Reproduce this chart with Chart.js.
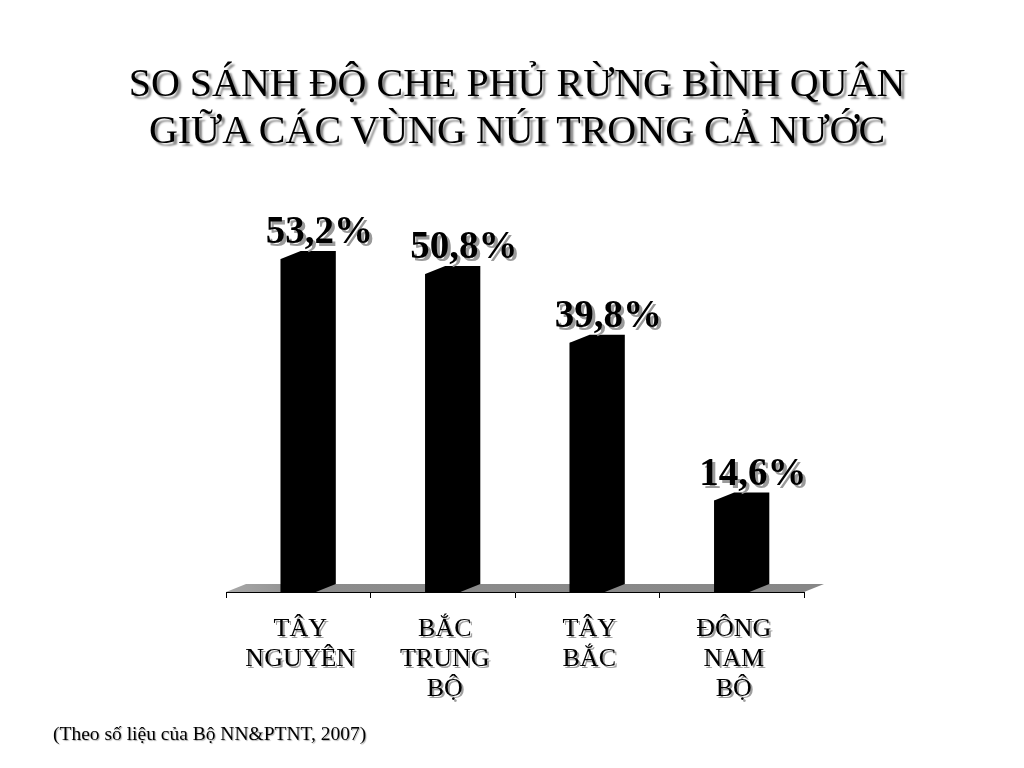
<!DOCTYPE html>
<html>
<head>
<meta charset="utf-8">
<script src="https://cdn.jsdelivr.net/npm/chart.js@4.4.1/dist/chart.umd.min.js"></script>
<style>
  html, body { margin: 0; padding: 0; background: #ffffff; }
  #wrap { position: relative; width: 1024px; height: 768px; overflow: hidden; }
  #chart { position: absolute; left: 0; top: 0; }
  .title {
    position: absolute; left: 10px; width: 1014px; text-align: center;
    font-family: "Liberation Serif", "Times New Roman", serif; font-size: 40px;
    color: #000; white-space: nowrap; line-height: 47px;
    text-shadow: 3px 3px 2px #8a8a8a;
  }
  .note {
    position: absolute; left: 53px; top: 723px;
    font-family: "Liberation Serif", "Times New Roman", serif; font-size: 19.5px;
    color: #000; white-space: nowrap; text-shadow: 1px 1px 1px #b0b0b0;
  }
</style>
</head>
<body>
<div id="wrap">
  <canvas id="chart" width="1024" height="768"></canvas>
  <div class="title" style="top:59px;">SO SÁNH ĐỘ CHE PHỦ RỪNG BÌNH QUÂN<br>GIỮA CÁC VÙNG NÚI TRONG CẢ NƯỚC</div>
  <div class="note">(Theo số liệu của Bộ NN&amp;PTNT, 2007)</div>
</div>
<script>
const categories = [["TÂY", "NGUYÊN"], ["BẮC", "TRUNG", "BỘ"], ["TÂY", "BẮC"], ["ĐÔNG", "NAM", "BỘ"]];
const coverValues = [53.2, 50.8, 39.8, 14.6];
const valueLabels = ["53,2%", "50,8%", "39,8%", "14,6%"];

const DEPTH_X = 20, DEPTH_Y = 8;

const threeD = {
  id: 'threeD',
  beforeDatasetsDraw(chart) {
    const { ctx, chartArea: a } = chart;
    ctx.save();
    ctx.beginPath();
    ctx.moveTo(a.left, a.bottom);
    ctx.lineTo(a.left + DEPTH_X, a.bottom - DEPTH_Y);
    ctx.lineTo(a.right + DEPTH_X, a.bottom - DEPTH_Y);
    ctx.lineTo(a.right, a.bottom);
    ctx.closePath();
    const g = ctx.createLinearGradient(a.left, 0, a.right, 0);
    g.addColorStop(0, '#a8a8a8');
    g.addColorStop(0.15, '#8c8c8c');
    g.addColorStop(1, '#878787');
    ctx.fillStyle = g;
    ctx.fill();
    ctx.restore();
  },
  afterDatasetsDraw(chart) {
    const { ctx } = chart;
    const meta = chart.getDatasetMeta(0);
    ctx.save();
    meta.data.forEach((bar, i) => {
      const x1 = bar.x - bar.width / 2, x2 = bar.x + bar.width / 2;
      const top = bar.y, base = bar.base;
      ctx.fillStyle = '#000';
      ctx.beginPath();
      ctx.moveTo(x1, base);
      ctx.lineTo(x1, top);
      ctx.lineTo(x1 + DEPTH_X, top - DEPTH_Y);
      ctx.lineTo(x2 + DEPTH_X, top - DEPTH_Y);
      ctx.lineTo(x2 + DEPTH_X, base - DEPTH_Y);
      ctx.lineTo(x2, base);
      ctx.closePath();
      ctx.fill();
      // value label
      ctx.font = 'bold 39px "Liberation Serif", "Times New Roman", serif';
      ctx.textAlign = 'center';
      ctx.textBaseline = 'alphabetic';
      const lx = bar.x + 21, ly = top - DEPTH_Y - 8;
      ctx.fillStyle = '#9a9a9a';
      ctx.fillText(valueLabels[i], lx + 3, ly + 3);
      ctx.fillStyle = '#000';
      ctx.fillText(valueLabels[i], lx, ly);
    });
    ctx.restore();
  },
  afterDraw(chart) {
    const { ctx, chartArea: a } = chart;
    const xs = chart.scales.x;
    ctx.save();
    ctx.font = '26px "Liberation Serif", "Times New Roman", serif';
    ctx.textAlign = 'center';
    ctx.textBaseline = 'alphabetic';
    categories.forEach((lines, i) => {
      const cx = xs.getPixelForValue(i) + 2;
      lines.forEach((t, j) => {
        const y = a.bottom + 44 + j * 30;
        ctx.fillStyle = '#a0a0a0';
        ctx.fillText(t, cx + 2, y + 2);
        ctx.fillStyle = '#000';
        ctx.fillText(t, cx, y);
      });
    });
    ctx.restore();
  }
};

new Chart(document.getElementById('chart'), {
  type: 'bar',
  data: {
    labels: categories.map(c => c.join(' ')),
    datasets: [{
      data: coverValues,
      backgroundColor: '#000000',
      borderWidth: 0,
      categoryPercentage: 1.0,
      barPercentage: 0.243
    }]
  },
  options: {
    responsive: false,
    animation: false,
    devicePixelRatio: 1,
    layout: { padding: { left: 226, right: 220, top: 216.4, bottom: 170 } },
    plugins: { legend: { display: false }, tooltip: { enabled: false }, title: { display: false } },
    scales: {
      x: {
        offset: true,
        grid: { display: true, drawOnChartArea: false, drawTicks: true, tickLength: 6, color: '#000', offset: true },
        border: { display: true, color: '#000', width: 1 },
        ticks: { display: false }
      },
      y: {
        display: false,
        min: 0,
        max: 60
      }
    }
  },
  plugins: [threeD]
});
</script>
</body>
</html>
